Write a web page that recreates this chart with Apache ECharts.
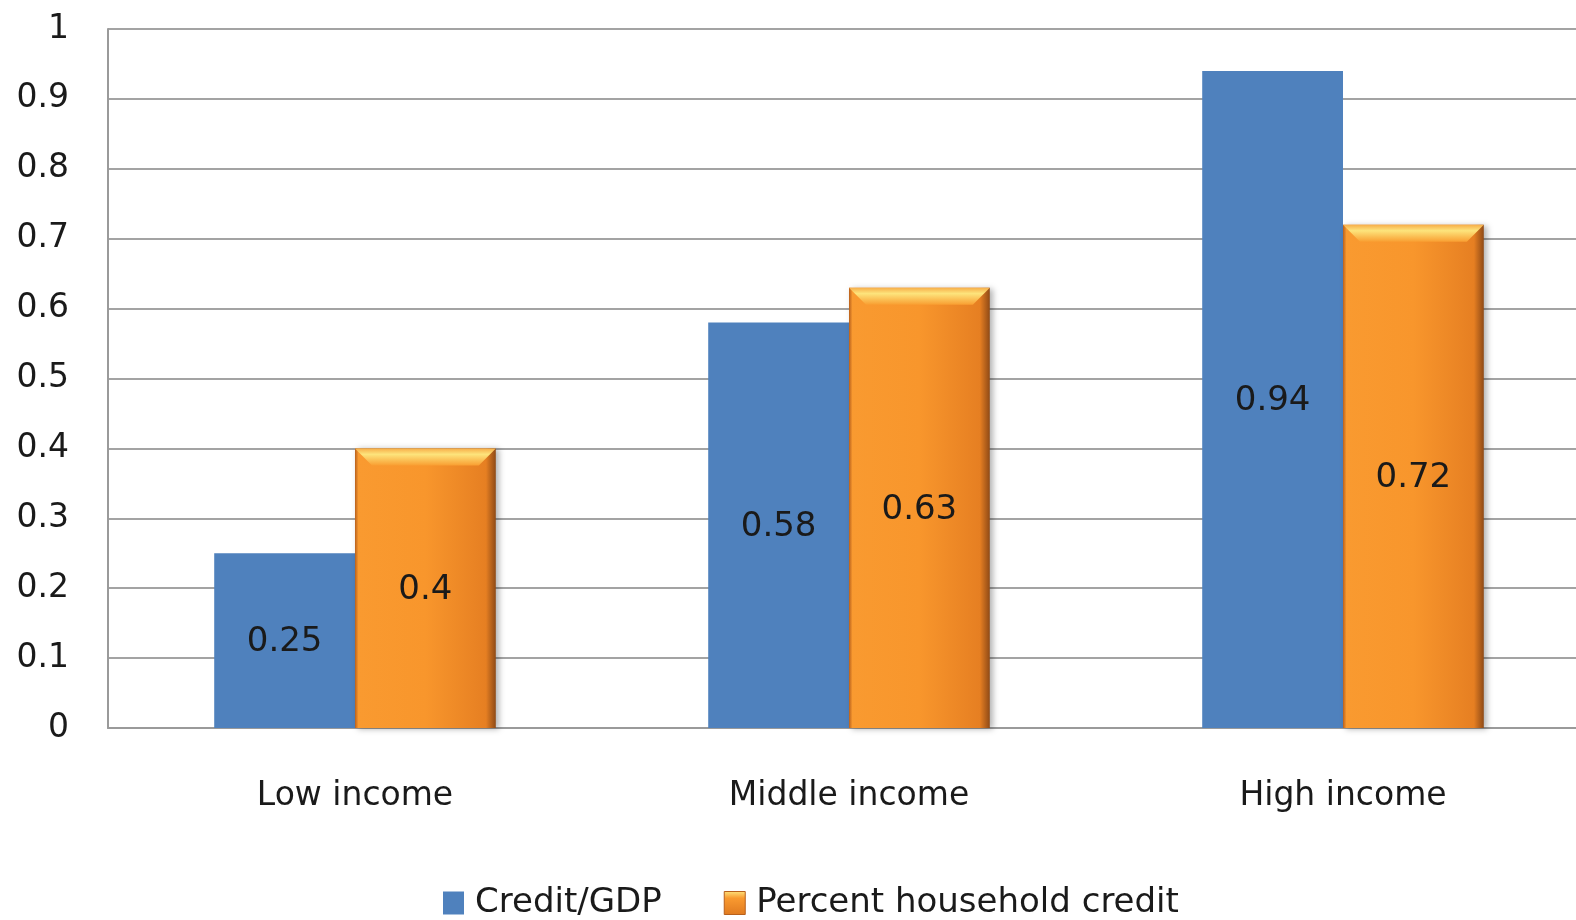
<!DOCTYPE html>
<html>
<head>
<meta charset="utf-8">
<script src="https://cdn.jsdelivr.net/npm/echarts@6/dist/echarts.min.js"></script>
<style>
  html, body { margin: 0; padding: 0; background: #fff; overflow: hidden; }
  #chart { width: 1576px; height: 920px; }
</style>
</head>
<body>
<div id="chart"></div>
<script>
// Income groups and the two measures per group
const categories = ['Low income', 'Middle income', 'High income'];
const creditGdp = [0.25, 0.58, 0.94];
const householdCredit = [0.4, 0.63, 0.72];
const yTicks = [0, 0.1, 0.2, 0.3, 0.4, 0.5, 0.6, 0.7, 0.8, 0.9, 1];

const FONT = '"DejaVu Sans", sans-serif';
const FS = 33;

const chart = echarts.init(document.getElementById('chart'), null, { renderer: 'canvas' });

const orangeFill = new echarts.graphic.LinearGradient(0, 0, 1, 0, [
  { offset: 0, color: '#b8601c' },
  { offset: 0.025, color: '#f99a30' },
  { offset: 0.5, color: '#f8962c' },
  { offset: 0.93, color: '#e67f22' },
  { offset: 1, color: '#8f4a16' }
]);

const legendOrange = new echarts.graphic.LinearGradient(0, 0, 0, 1, [
  { offset: 0, color: '#fde47c' },
  { offset: 0.3, color: '#f99a30' },
  { offset: 1, color: '#e07a20' }
]);

const labelStyle = {
  show: true,
  position: 'inside',
  color: '#1a1a1a',
  fontFamily: FONT,
  fontSize: 34,
  offset: [0, 2],
  formatter: p => String(p.value)
};

chart.setOption({
  animation: false,
  backgroundColor: '#ffffff',
  // the plot runs a little past the right edge of the canvas
  grid: { left: 108, width: 1482, top: 29, height: 699, outerBoundsMode: 'none', containLabel: false },
  legend: {
    top: 881,
    left: 438,
    itemWidth: 21,
    itemHeight: 23,
    itemGap: 62,
    textStyle: { fontFamily: FONT, fontSize: 34, color: '#1a1a1a', padding: [0, 0, 0, 6] },
    data: [
      { name: 'Credit/GDP', icon: 'rect', itemStyle: { color: '#4f81bd' } },
      { name: 'Percent household credit', icon: 'rect', itemStyle: { color: legendOrange, borderColor: '#b8601c', borderWidth: 1 } }
    ]
  },
  xAxis: {
    type: 'category',
    data: categories,
    axisLine: { show: true, lineStyle: { color: '#9a9a9a', width: 2 } },
    axisTick: { show: false },
    axisLabel: { fontFamily: FONT, fontSize: FS, color: '#1a1a1a', margin: 52 }
  },
  yAxis: {
    type: 'value',
    min: 0,
    max: 1,
    interval: 0.1,
    axisLine: { show: true, lineStyle: { color: '#9a9a9a', width: 2 } },
    axisTick: { show: false },
    splitLine: { show: true, lineStyle: { color: '#a3a3a3', width: 2 } },
    axisLabel: {
      fontFamily: FONT, fontSize: FS, color: '#1a1a1a', margin: 39,
      formatter: v => {
        const t = yTicks.find(x => Math.abs(x - v) < 1e-9);
        return t === undefined ? '' : String(t);
      }
    }
  },
  series: [
    {
      name: 'Credit/GDP',
      type: 'bar',
      data: creditGdp,
      barGap: '0%',
      barCategoryGap: '43%',
      itemStyle: { color: '#4f81bd' },
      label: labelStyle
    },
    {
      name: 'Percent household credit',
      type: 'bar',
      data: householdCredit,
      itemStyle: {
        color: orangeFill,
        shadowColor: 'rgba(0,0,0,0.3)',
        shadowBlur: 6,
        shadowOffsetX: 3,
        shadowOffsetY: 1
      },
      label: labelStyle
    }
  ]
});

// Light top bevel on the orange bars, placed from each bar's layout
function drawBevels() {
  const graphics = [];
  const data = chart.getModel().getSeriesByIndex(1).getData();
  householdCredit.forEach((v, i) => {
    const layout = data.getItemLayout(i);
    const x0 = layout.x, w = layout.width, y0 = layout.y + layout.height;
    const b = 17;
    graphics.push({
      type: 'polygon',
      silent: true,
      shape: { points: [[x0, y0], [x0 + w, y0], [x0 + w - b, y0 + b], [x0 + b, y0 + b]] },
      style: {
        fill: new echarts.graphic.LinearGradient(0, 0, 0, 1, [
          { offset: 0, color: '#f7ad48' },
          { offset: 0.35, color: '#fde47c' },
          { offset: 1, color: '#f99f32' }
        ])
      },
      z: 10
    });
  });
  chart.setOption({ graphic: graphics });
}
drawBevels();
</script>
</body>
</html>
